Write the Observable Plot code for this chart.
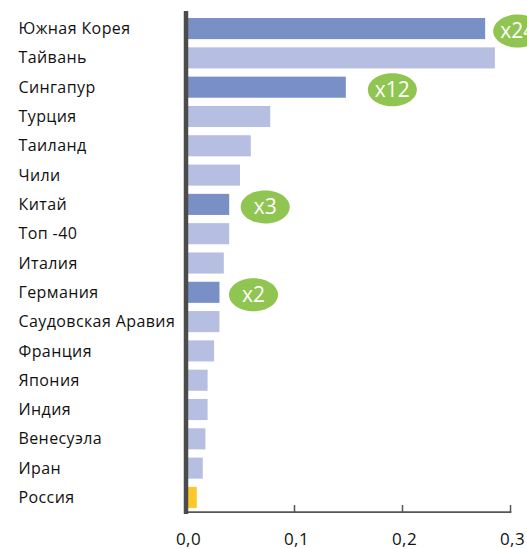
<!DOCTYPE html>
<html>
<head>
<meta charset="utf-8">
<script src="https://cdn.jsdelivr.net/npm/d3@7"></script>
<script src="https://cdn.jsdelivr.net/npm/@observablehq/plot@0.6"></script>
<style>
  html, body { margin: 0; padding: 0; background: white; overflow: hidden; }
  .lbl text { letter-spacing: 0.4px; }
</style>
</head>
<body>
<div id="chart"></div>
<script>
const countries = ["Южная Корея","Тайвань","Сингапур","Турция","Таиланд","Чили","Китай","Топ -40","Италия","Германия","Саудовская Аравия","Франция","Япония","Индия","Венесуэла","Иран","Россия"];
const values = [0.277,0.286,0.148,0.078,0.060,0.050,0.040,0.040,0.035,0.031,0.031,0.026,0.020,0.020,0.018,0.0155,0.010];
const groups = ["dark","light","dark","light","light","light","dark","light","light","dark","light","light","light","light","light","light","russia"];
const xTicks = [0, 0.1, 0.2, 0.3];
const badgeCountries = ["Южная Корея","Сингапур","Китай","Германия"];
const badgeLabels = ["x24","x12","x3","x2"];

const palette = {dark: "#7990c7", light: "#b6bfe2", russia: "#fcc82a"};
const data = countries.map((c, i) => ({country: c, value: values[i], group: groups[i]}));
const badgeOffsets = [32, 46, 35.5, 33.5];
const badges = badgeCountries.map((c, i) => ({
  country: c, label: badgeLabels[i],
  value: values[countries.indexOf(c)], off: badgeOffsets[i]
}));

const ellipse = {
  draw(ctx) {
    const rx = 24.5, ry = 16.5, k = 0.5523;
    ctx.moveTo(rx, 0);
    ctx.bezierCurveTo(rx, ry * k, rx * k, ry, 0, ry);
    ctx.bezierCurveTo(-rx * k, ry, -rx, ry * k, -rx, 0);
    ctx.bezierCurveTo(-rx, -ry * k, -rx * k, -ry, 0, -ry);
    ctx.bezierCurveTo(rx * k, -ry, rx, -ry * k, rx, 0);
    ctx.closePath();
  }
};

const W = 527, H = 549, mT = 14, mB = 37;
const frameH = H - mT - mB;

const shift = (sel, isText) => (index, scales, values, dims, ctx, next) => {
  const g = next(index, scales, values, dims, ctx);
  const s = d3.select(g).selectAll(sel).attr("transform", (_, j) => {
    const i = index[j];
    return `translate(${values.x[i] + badges[i].off},${values.y[i] + 2})`;
  }).attr("x", null);
  if (isText) s.attr("y", "0.35em").attr("dy", null); else s.attr("y", null);
  return g;
};

const chart = Plot.plot({
  width: W, height: H,
  marginLeft: 186, marginRight: 17, marginTop: mT, marginBottom: mB,
  style: {fontFamily: "'Open Sans', sans-serif", fontSize: "16px", color: "#111", background: "white"},
  x: {domain: [0, 0.3], axis: null, label: null},
  y: {domain: countries, paddingInner: 0.28, paddingOuter: 0.137, round: false, axis: null, label: null},
  color: {type: "identity"},
  marks: [
    Plot.barX(data, {x: "value", y: "country", fill: d => palette[d.group]}),
    Plot.frame({anchor: "bottom", stroke: "#555", strokeWidth: 1.8, dy: -0.3}),
    Plot.ruleX(xTicks, {x: d => d, stroke: "#555", strokeWidth: 1.5, insetTop: frameH - 7}),
    Plot.ruleX([0], {stroke: "#4b4b4b", strokeWidth: 4.5, dx: -0.5, insetTop: -3, insetBottom: -2}),
    Plot.axisX({ticks: xTicks, tickSize: 0, tickPadding: 20, fontSize: 17, label: null, className: "lbl", dx: 2,
      tickFormat: d => d.toFixed(1).replace(".", ",")}),
    Plot.axisY({tickSize: 0, tickPadding: 0, textAnchor: "start", dx: -168, fontSize: 16, label: null, className: "lbl"}),
    Plot.dot(badges, {x: "value", y: "country", symbol: ellipse, fill: "#8fc550", stroke: "none", render: shift("path", false)}),
    Plot.text(badges, {x: "value", y: "country", text: "label", fill: "white", fontSize: 21, render: shift("text", true)})
  ]
});
document.getElementById("chart").appendChild(chart);
</script>
</body>
</html>
